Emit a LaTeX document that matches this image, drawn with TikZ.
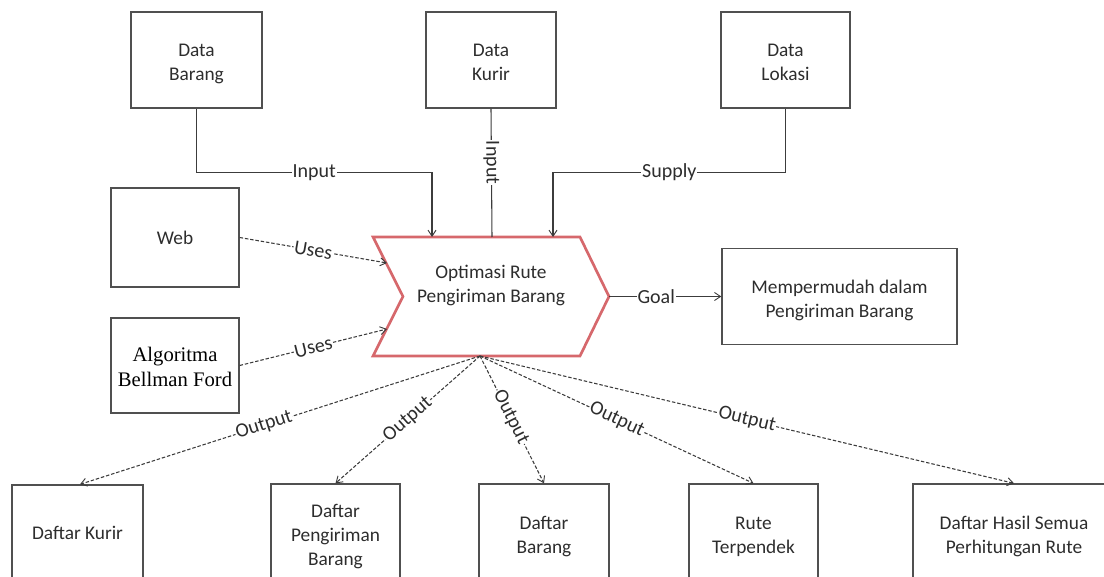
\documentclass[tikz,border=0pt]{standalone}
\usepackage{fontspec}
\setmainfont{Carlito}
\newfontfamily\algfont{Liberation Serif}
\usetikzlibrary{arrows.meta}

\definecolor{edgegray}{RGB}{60,60,60}
\definecolor{boxgray}{RGB}{80,80,80}
\definecolor{txtgray}{RGB}{45,45,45}
\definecolor{chevred}{RGB}{214,104,108}

% extra room above the first line / below the last line of a stacked box text
\newcommand\lowerfirst{\rule{0pt}{17pt}}
\newcommand\evenlast{\rule[-4pt]{0pt}{0pt}}

\begin{document}
\begin{tikzpicture}[x=0.75pt,y=-0.75pt,
  font=\fontsize{14.5}{18}\selectfont,
  box/.style 2 args={draw=boxgray, line width=1pt, minimum width=#1*0.75pt,
    minimum height=#2*0.75pt, inner sep=0pt, align=center, text=txtgray},
  link/.style={draw=edgegray, line width=0.8pt},
  arrowed/.style={-{Straight Barb[length=4.5pt,width=6pt,line width=0.7pt]}},
  dashlink/.style={link, dash pattern=on 2.6pt off 1.4pt},
  lbl/.style={fill=white, inner sep=0.6pt, text=txtgray, font=\fontsize{15}{18}\selectfont},
  chevron/.style={draw=chevred, fill=white, line width=2pt, line join=miter}
]
\useasboundingbox (0,0) rectangle (1104,577);
\clip (0,0) rectangle (1104,577);

% sources along the top
\node[box={131}{96}] (dB) at (196.5,60) {\lowerfirst Data\\Barang\evenlast};
\node[box={130}{96}] (dK) at (491,60) {\lowerfirst Data\\Kurir\evenlast};
\node[box={129}{96}] (dL) at (785.5,60) {\lowerfirst Data\\Lokasi\evenlast};

% tools on the left
\node[box={128}{99}] (web) at (175,237.5) {Web};
\node[box={128}{95}, text=black, font=\algfont\fontsize{15.5}{19}\selectfont] (alg) at (175,365.5) {\lowerfirst Algoritma\\Bellman Ford\evenlast};

% central process (chevron)
\draw[chevron] (373,237) -- (580,237) -- (609,296.5) -- (580,356) -- (373,356) -- (403,296.5) -- cycle;
\node[align=center, text=txtgray] (opt) at (491,285) {Optimasi Rute\\Pengiriman Barang};
\coordinate (in1) at (432,237);
\coordinate (in2) at (492,237);
\coordinate (in3) at (553,237);
\coordinate (use1) at (387,263);
\coordinate (use2) at (387,329);
\coordinate (tipR) at (609,296.5);
\coordinate (outSrc) at (480,356);

% goal
\node[box={235}{96}] (goal) at (839.5,296.5) {\lowerfirst Mempermudah dalam\\Pengiriman Barang\evenlast};

% outputs along the bottom
\node[box={131}{96}] (oK) at (77.5,533) {Daftar Kurir};
\node[box={129}{96}] (oP) at (335.5,532) {\lowerfirst Daftar\\Pengiriman\\Barang};
\node[box={130}{96}] (oB) at (544,532) {\lowerfirst Daftar\\Barang};
\node[box={129}{96}] (oR) at (753.5,532) {\lowerfirst Rute\\Terpendek};
\node[box={202}{96}] (oH) at (1014,532) {\lowerfirst Daftar Hasil Semua\\Perhitungan Rute};

% inputs and supply
\draw[link, arrowed] (dB.south) -- ++(0,64) -| node[lbl, pos=0.25] {Input} (in1);
\draw[link] (dK.south) -- node[lbl, sloped, pos=0.42] {Input} (in2);
\draw[link, arrowed] (dL.south) -- ++(0,64) -| node[lbl, pos=0.25] {Supply} (in3);

% uses
\draw[dashlink, arrowed] (web.east) -- node[lbl, sloped] {Uses} (use1);
\draw[dashlink, arrowed] (alg.east) -- node[lbl, sloped] {Uses} (use2);

% goal
\draw[link, arrowed] (tipR) -- node[lbl, pos=0.42] {Goal} (goal.west);

% outputs
\draw[dashlink, arrowed] (outSrc) -- node[lbl, sloped, pos=0.54] {Output} ([xshift=1.9pt]oK.north);
\draw[dashlink, arrowed] (outSrc) -- node[lbl, sloped, pos=0.5] {Output} (oP.north);
\draw[dashlink, arrowed] (outSrc) -- node[lbl, sloped, pos=0.48] {Output} (oB.north);
\draw[dashlink, arrowed] (outSrc) -- node[lbl, sloped, pos=0.5] {Output} (oR.north);
\draw[dashlink, arrowed] (outSrc) -- node[lbl, sloped, pos=0.5] {Output} (oH.north);
\end{tikzpicture}
\end{document}
